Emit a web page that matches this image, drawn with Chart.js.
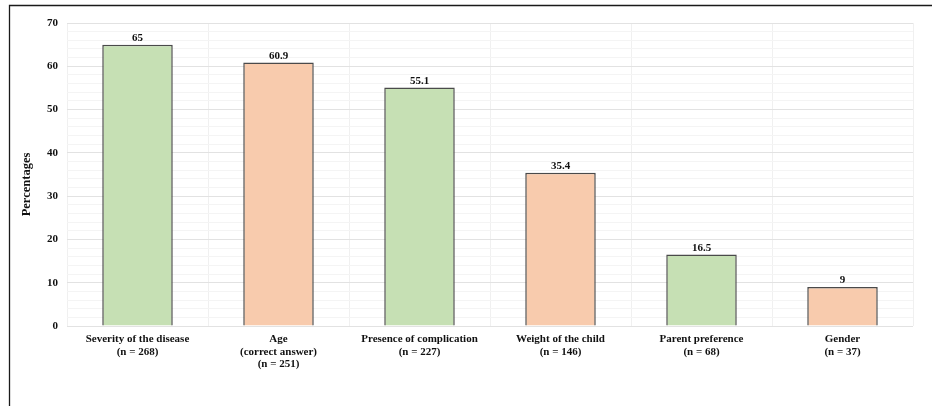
<!DOCTYPE html>
<html>
<head>
<meta charset="utf-8">
<script src="https://cdn.jsdelivr.net/npm/chart.js@4.4.1/dist/chart.umd.min.js"></script>
<style>
  html, body { margin: 0; padding: 0; background: #ffffff; }
  #wrap { position: relative; width: 932px; height: 406px; }
</style>
</head>
<body>
<div id="wrap"><canvas id="chart" width="932" height="406"></canvas></div>
<script>
// Reasons for choice, with respondent counts
const categories = [
  ['Severity of the disease', '(n = 268)'],
  ['Age', '(correct answer)', '(n = 251)'],
  ['Presence of complication', '(n = 227)'],
  ['Weight of the child', '(n = 146)'],
  ['Parent preference', '(n = 68)'],
  ['Gender', '(n = 37)']
];
const percentages = [65, 60.9, 55.1, 35.4, 16.5, 9];
const barColors = ['#c6e0b4', '#f8cbad', '#c6e0b4', '#f8cbad', '#c6e0b4', '#f8cbad'];
const yTitle = 'Percentages';
const yMax = 70;
const yMajorStep = 10;
const yMinorStep = 2;

const SERIF = '"Liberation Serif", "Times New Roman", serif';

// Value labels above each bar
const valueLabels = {
  id: 'valueLabels',
  afterDatasetsDraw(chart) {
    const ctx = chart.ctx;
    const meta = chart.getDatasetMeta(0);
    ctx.save();
    ctx.font = 'bold 11px ' + SERIF;
    ctx.fillStyle = '#111111';
    ctx.textAlign = 'center';
    ctx.textBaseline = 'bottom';
    meta.data.forEach((bar, i) => {
      ctx.fillText(String(percentages[i]), bar.x, bar.y - 1);
    });
    ctx.restore();
  }
};

// Outer frame along the top and left edges, plus the rotated y-axis title
const frame = {
  id: 'frame',
  beforeDraw(chart) {
    const ctx = chart.ctx;
    ctx.save();
    ctx.fillStyle = '#ffffff';
    ctx.fillRect(0, 0, chart.width, chart.height);
    ctx.strokeStyle = '#1a1a1a';
    ctx.lineWidth = 1.3;
    ctx.beginPath();
    ctx.moveTo(9.5, chart.height);
    ctx.lineTo(9.5, 5.5);
    ctx.lineTo(chart.width, 5.5);
    ctx.stroke();
    ctx.restore();
  },
  afterDraw(chart) {
    const ctx = chart.ctx;
    const area = chart.chartArea;
    ctx.save();
    ctx.translate(27, (area.top + area.bottom) / 2 + 10);
    ctx.rotate(-Math.PI / 2);
    ctx.font = 'bold 12.5px ' + SERIF;
    ctx.fillStyle = '#111111';
    ctx.textAlign = 'center';
    ctx.textBaseline = 'middle';
    ctx.fillText(yTitle, 0, 0);
    ctx.restore();
  }
};

new Chart(document.getElementById('chart'), {
  type: 'bar',
  data: {
    labels: categories,
    datasets: [{
      data: percentages,
      backgroundColor: barColors,
      borderColor: '#4a4a4a',
      borderWidth: 1.5,
      categoryPercentage: 1.0,
      barPercentage: 0.5
    }]
  },
  options: {
    responsive: false,
    animation: false,
    events: [],
    layout: { padding: { left: 0, right: 19, top: 23, bottom: 0 } },
    plugins: {
      legend: { display: false },
      tooltip: { enabled: false }
    },
    scales: {
      x: {
        grid: { color: '#f0f0f0', lineWidth: 1, drawTicks: false },
        border: { display: false },
        ticks: {
          color: '#111111',
          font: { family: SERIF, weight: 'bold', size: 11, lineHeight: 1.15 },
          padding: 7,
          maxRotation: 0,
          autoSkip: false
        },
        afterFit(scale) { scale.height = 80; }
      },
      y: {
        min: 0,
        max: yMax,
        grid: {
          drawTicks: false,
          lineWidth: 1,
          color: (c) => (c.tick && c.tick.value % yMajorStep === 0) ? '#e2e2e2' : '#f4f4f4'
        },
        border: { display: false },
        ticks: {
          stepSize: yMinorStep,
          autoSkip: false,
          color: '#111111',
          padding: 9,
          font: { family: SERIF, weight: 'bold', size: 11 },
          callback: (v) => (v % yMajorStep === 0 ? String(v) : '')
        },
        afterFit(scale) { scale.width = 67; }
      }
    }
  },
  plugins: [frame, valueLabels]
});
</script>
</body>
</html>
